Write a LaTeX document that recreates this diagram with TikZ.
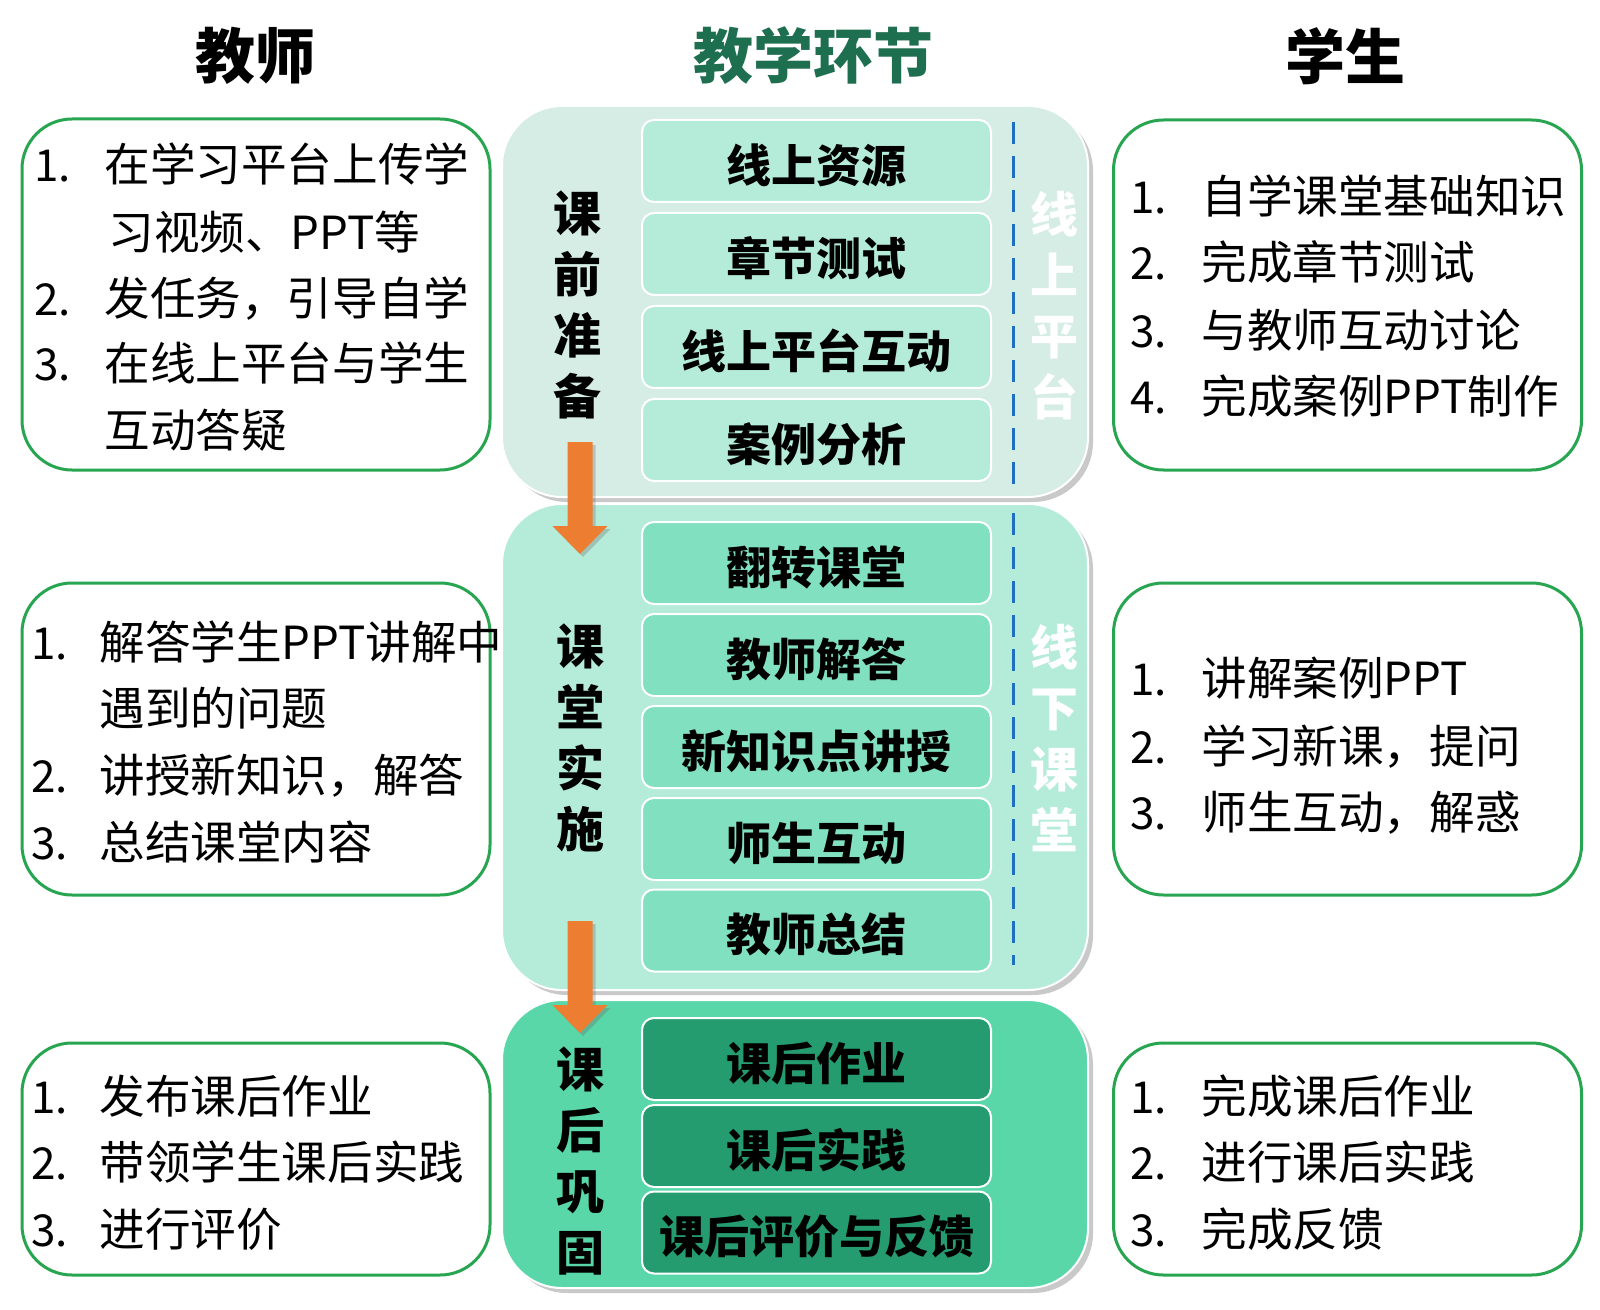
\documentclass[tikz,border=0pt]{standalone}
\usepackage{fontspec}
\setmainfont{Noto Sans CJK SC}
\usetikzlibrary{shadows}
\definecolor{hdrgreen}{RGB}{30,110,80}
\definecolor{boxgreen}{RGB}{40,165,80}
\definecolor{pone}{RGB}{213,237,228}
\definecolor{poneIn}{RGB}{180,236,217}
\definecolor{ptwo}{RGB}{180,236,217}
\definecolor{ptwoIn}{RGB}{128,224,191}
\definecolor{pthree}{RGB}{90,215,168}
\definecolor{pthreeIn}{RGB}{36,156,111}
\definecolor{dashblue}{RGB}{31,111,191}
\definecolor{arroworange}{RGB}{237,125,49}
\tikzset{
  hdr/.style={inner sep=0pt, font=\fontsize{30pt}{30pt}\selectfont\bfseries},
  sidebox/.style={draw=boxgreen, line width=1.5pt, rounded corners=25pt, fill=white,
    minimum width=234pt, inner sep=0pt},
  panel/.style={draw=white, line width=1pt, rounded corners=30pt,
    minimum width=293pt, inner sep=0pt,
    drop shadow={shadow xshift=2.5pt, shadow yshift=-2.5pt, opacity=0.35, fill=black!60}},
  ibox/.style={draw=white, line width=1pt, rounded corners=6pt,
    minimum width=174.5pt, minimum height=41pt, inner sep=0pt,
    text height=23.8pt, text depth=2.7pt,
    font=\fontsize{22.5pt}{22.5pt}\selectfont\bfseries},
  vlabel/.style={inner sep=0pt, align=center,
    font=\fontsize{24pt}{30.5pt}\selectfont\bfseries},
  wlabel/.style={inner sep=0pt, align=center, text=white,
    font=\fontsize{24pt}{30.5pt}\selectfont\bfseries},
  num/.style={anchor=west, inner sep=0pt, text height=0.88em, text depth=0.12em,
    yshift=-4.5pt, font=\fontsize{22pt}{22pt}\selectfont},
  txt/.style={anchor=west, inner sep=0pt, text height=0.88em, text depth=0.12em,
    yshift=-4.5pt, font=\fontsize{22.8pt}{22.8pt}\selectfont},
  dline/.style={draw=dashblue, line width=1.5pt, dash pattern=on 11pt off 6pt},
  blockarrow/.style={fill=arroworange,
    drop shadow={shadow xshift=1.5pt, shadow yshift=-1.5pt, opacity=0.3, fill=black!60}}
}
\begin{document}
\begin{tikzpicture}[x=0.5pt,y=-0.5pt]
\useasboundingbox[fill=white] (0,0) rectangle (1600,1310);

% headers
\node[hdr] (hT) at (255,56) {教师};
\node[hdr, text=hdrgreen] (hM) at (813,56) {教学环节};
\node[hdr] (hS) at (1345,56) {学生};

% side boxes
\node[sidebox, minimum height=175.5pt] (L1) at (256,294.5) {};
\node[sidebox, minimum height=156pt] (L2) at (256,739) {};
\node[sidebox, minimum height=116pt] (L3) at (256,1159) {};
\node[sidebox, minimum height=175pt] (R1) at (1347.5,295) {};
\node[sidebox, minimum height=156pt] (R2) at (1347.5,739) {};
\node[sidebox, minimum height=116pt] (R3) at (1347.5,1159) {};

% panels
\node[panel, fill=pone, minimum height=195.5pt] (P1) at (795,301.5) {};
\node[panel, fill=ptwo, minimum height=243pt] (P2) at (795,747) {};
\node[panel, fill=pthree, minimum height=144pt] (P3) at (795,1144) {};

% inner boxes panel 1
\node[ibox, fill=poneIn] (a1) at (816.5,161) {线上资源};
\node[ibox, fill=poneIn] (a2) at (816.5,254) {章节测试};
\node[ibox, fill=poneIn] (a3) at (816.5,347) {线上平台互动};
\node[ibox, fill=poneIn] (a4) at (816.5,440) {案例分析};
% panel 2
\node[ibox, fill=ptwoIn] (b1) at (816.5,563) {翻转课堂};
\node[ibox, fill=ptwoIn] (b2) at (816.5,655) {教师解答};
\node[ibox, fill=ptwoIn] (b3) at (816.5,747) {新知识点讲授};
\node[ibox, fill=ptwoIn] (b4) at (816.5,839) {师生互动};
\node[ibox, fill=ptwoIn] (b5) at (816.5,930.5) {教师总结};
% panel 3
\node[ibox, fill=pthreeIn] (c1) at (816.5,1059) {课后作业};
\node[ibox, fill=pthreeIn] (c2) at (816.5,1146) {课后实践};
\node[ibox, fill=pthreeIn] (c3) at (816.5,1232.5) {课后评价与反馈};

% vertical labels
\node[vlabel] (v1) at (577,305) {课\\前\\准\\备};
\node[vlabel] (v2) at (580,738) {课\\堂\\实\\施};
\node[vlabel] (v3) at (580,1161) {课\\后\\巩\\固};
\node[wlabel] (w1) at (1054,306) {线\\上\\平\\台};
\node[wlabel] (w2) at (1054,738) {线\\下\\课\\堂};

% dashed lines
\coordinate (d1a) at (1013,122);
\coordinate (d1b) at (1013,487);
\coordinate (d2a) at (1013,513);
\coordinate (d2b) at (1013,965);
\draw[dline] (d1a) -- (d1b);
\draw[dline] (d2a) -- (d2b);

% orange block arrows
\coordinate (ar1) at (580,442);
\coordinate (ar2) at (580,921);
\fill[blockarrow] (ar1) ++(-12.5,0) -- ++(25,0) -- ++(0,84) -- ++(15,0) -- ++(-27.5,28) -- ++(-27.5,-28) -- ++(15,0) -- cycle;
\fill[blockarrow] (ar2) ++(-12.5,0) -- ++(25,0) -- ++(0,84) -- ++(15,0) -- ++(-27.5,28) -- ++(-27.5,-28) -- ++(15,0) -- cycle;

% left box 1
\node[num] (l1n1) at (34,165) {1.};
\node[txt] (l1t1) at (104,165) {在学习平台上传学};
\node[txt] (l1t1b) at (108,233) {习视频、PPT等};
\node[num] (l1n2) at (34,299) {2.};
\node[txt] (l1t2) at (104,299) {发任务，引导自学};
\node[num] (l1n3) at (34,364) {3.};
\node[txt] (l1t3) at (104,364) {在线上平台与学生};
\node[txt] (l1t3b) at (104,431) {互动答疑};

% left box 2
\node[num] (l2n1) at (31,643) {1.};
\node[txt] (l2t1) at (99,643) {解答学生PPT讲解中};
\node[txt] (l2t1b) at (99,709) {遇到的问题};
\node[num] (l2n2) at (31,776) {2.};
\node[txt] (l2t2) at (99,776) {讲授新知识，解答};
\node[num] (l2n3) at (31,843) {3.};
\node[txt] (l2t3) at (99,843) {总结课堂内容};

% left box 3
\node[num] (l3n1) at (31,1097) {1.};
\node[txt] (l3t1) at (99,1097) {发布课后作业};
\node[num] (l3n2) at (31,1163) {2.};
\node[txt] (l3t2) at (99,1163) {带领学生课后实践};
\node[num] (l3n3) at (31,1230) {3.};
\node[txt] (l3t3) at (99,1230) {进行评价};

% right box 1
\node[num] (r1n1) at (1130,197) {1.};
\node[txt] (r1t1) at (1201,197) {自学课堂基础知识};
\node[num] (r1n2) at (1130,263) {2.};
\node[txt] (r1t2) at (1201,263) {完成章节测试};
\node[num] (r1n3) at (1130,331) {3.};
\node[txt] (r1t3) at (1201,331) {与教师互动讨论};
\node[num] (r1n4) at (1130,397) {4.};
\node[txt] (r1t4) at (1201,397) {完成案例PPT制作};

% right box 2
\node[num] (r2n1) at (1130,679) {1.};
\node[txt] (r2t1) at (1201,679) {讲解案例PPT};
\node[num] (r2n2) at (1130,747) {2.};
\node[txt] (r2t2) at (1201,747) {学习新课，提问};
\node[num] (r2n3) at (1130,813) {3.};
\node[txt] (r2t3) at (1201,813) {师生互动，解惑};

% right box 3
\node[num] (r3n1) at (1130,1097) {1.};
\node[txt] (r3t1) at (1201,1097) {完成课后作业};
\node[num] (r3n2) at (1130,1163) {2.};
\node[txt] (r3t2) at (1201,1163) {进行课后实践};
\node[num] (r3n3) at (1130,1230) {3.};
\node[txt] (r3t3) at (1201,1230) {完成反馈};
\end{tikzpicture}
\end{document}
